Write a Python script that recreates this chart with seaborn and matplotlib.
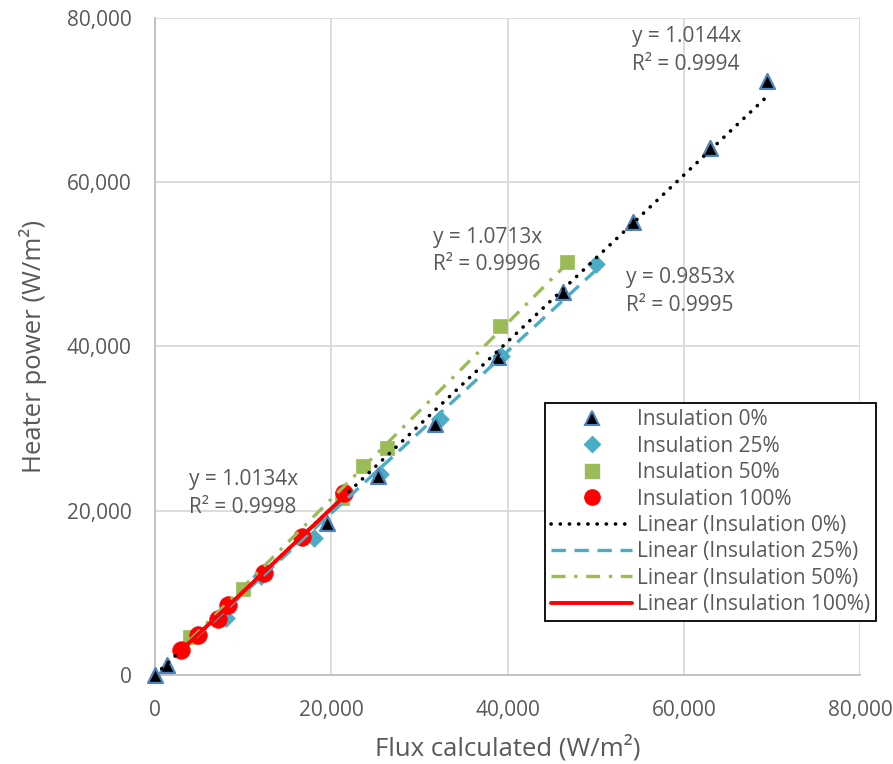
import numpy as np
import matplotlib
matplotlib.use("Agg")
import matplotlib.pyplot as plt
from matplotlib.lines import Line2D
import seaborn as sns

# ---- data ----
series_names = ["Insulation 0%", "Insulation 25%", "Insulation 50%", "Insulation 100%"]

x_ins0 = [0, 1400, 19500, 25300, 31800, 38900, 46300, 54200, 63000, 69400]
y_ins0 = [0, 1200, 18500, 24200, 30600, 38700, 46600, 55200, 64200, 72300]

x_ins25 = [4600, 8100, 12000, 18000, 25500, 32300, 39300, 50000]
y_ins25 = [4900, 7000, 12000, 16700, 24500, 31200, 38800, 50000]

x_ins50 = [4000, 10000, 21200, 23600, 26300, 39100, 46700]
y_ins50 = [4600, 10500, 21600, 25500, 27600, 42500, 50300]

x_ins100 = [3000, 4900, 7100, 8300, 12400, 16700, 21400]
y_ins100 = [3000, 4900, 6800, 8500, 12400, 16800, 22200]

slopes = [1.0144, 0.9853, 1.0713, 1.0134]
r2 = [0.9994, 0.9995, 0.9996, 0.9998]
eq_pos = [(54100, 79000), (53500, 49700), (31500, 54600), (3900, 25100)]

ticks = [0, 20000, 40000, 60000, 80000]
tick_labels = ["0", "20,000", "40,000", "60,000", "80,000"]

# ---- styling ----
sns.set_theme(style="white")
plt.rcParams["font.family"] = ["Open Sans", "DejaVu Sans"]
TXT = "#595959"

fig = plt.figure(figsize=(8.93, 7.64), dpi=100)
ax = fig.add_axes([155 / 893, 1 - 675 / 764, 705 / 893, 657 / 764])

xs = [x_ins0, x_ins25, x_ins50, x_ins100]
ys = [y_ins0, y_ins25, y_ins50, y_ins100]

marker_kw = [
    dict(marker="^", s=115, color="#000000", edgecolor="#4F81BD", linewidth=1.6),
    dict(marker="D", s=80, color="#4BACC6", edgecolor="#4BACC6", linewidth=0.5),
    dict(marker="s", s=115, color="#9BBB59", edgecolor="#9BBB59", linewidth=0.5),
    dict(marker="o", s=160, color="#FF0000", edgecolor="#FF0000", linewidth=0.5),
]
zorders = [4, 3, 5, 6]
for x, y, kw, z in zip(xs, ys, marker_kw, zorders):
    sns.scatterplot(x=x, y=y, ax=ax, zorder=z, legend=False, clip_on=False, **kw)

line_kw = [
    dict(color="#000000", lw=2.6, dashes=(0.05, 2.5), dash_capstyle="round"),
    dict(color="#4BACC6", lw=2.4, dashes=(4.3, 2.6), dash_capstyle="butt"),
    dict(color="#9BBB59", lw=2.4, dashes=(4.2, 2.6, 1.0, 2.6), dash_capstyle="butt"),
    dict(color="#FF0000", lw=2.8, linestyle="-"),
]
for x, k, kw in zip(xs, slopes, line_kw):
    xx = np.array([min(x), max(x)], dtype=float)
    ax.plot(xx, k * xx, zorder=7, **kw)

for k, r, (px, py) in zip(slopes, r2, eq_pos):
    ax.text(px, py, f"y = {k:.4f}x\nR\u00b2 = {r:.4f}", fontsize=15, color=TXT,
            va="top", ha="left", linespacing=1.42, zorder=8)

ax.set_xlim(0, 80000)
ax.set_ylim(0, 80000)
ax.set_xticks(ticks)
ax.set_xticklabels(tick_labels)
ax.set_yticks(ticks)
ax.set_yticklabels(tick_labels)
ax.tick_params(axis="both", length=0, labelsize=15, labelcolor=TXT)
ax.tick_params(axis="x", pad=18)
ax.tick_params(axis="y", pad=17)
ax.grid(True, color="#D9D9D9", linewidth=1.3)
ax.set_axisbelow(True)
for s in ["top", "right"]:
    ax.spines[s].set_visible(False)
for s in ["left", "bottom"]:
    ax.spines[s].set_color("#BFBFBF")
    ax.spines[s].set_linewidth(1.3)

ax.set_xlabel("Flux calculated (W/m\u00b2)", fontsize=18.5, color=TXT, labelpad=10)
ax.set_ylabel("Heater power (W/m\u00b2)", fontsize=18.5, color=TXT, labelpad=14)

# ---- legend ----
handles = [
    Line2D([], [], linestyle="none", marker="^", markersize=10, markerfacecolor="#000000",
           markeredgecolor="#4F81BD", markeredgewidth=1.5),
    Line2D([], [], linestyle="none", marker="D", markersize=8, color="#4BACC6"),
    Line2D([], [], linestyle="none", marker="s", markersize=10, color="#9BBB59"),
    Line2D([], [], linestyle="none", marker="o", markersize=11, color="#FF0000"),
]
for kw in line_kw:
    handles.append(Line2D([], [], **kw))
labels = series_names + [f"Linear ({n})" for n in series_names]
leg = ax.legend(handles, labels, loc="upper left", bbox_to_anchor=(0.553, 0.414),
                fontsize=15, frameon=True, fancybox=False, edgecolor="#000000",
                handlelength=3.9, handletextpad=0.2, labelspacing=0.26,
                borderpad=0.3, borderaxespad=0, framealpha=1)
leg.get_frame().set_linewidth(1.3)
for t in leg.get_texts():
    t.set_color(TXT)
leg.set_zorder(10)

fig.savefig("out.png", dpi=100)
